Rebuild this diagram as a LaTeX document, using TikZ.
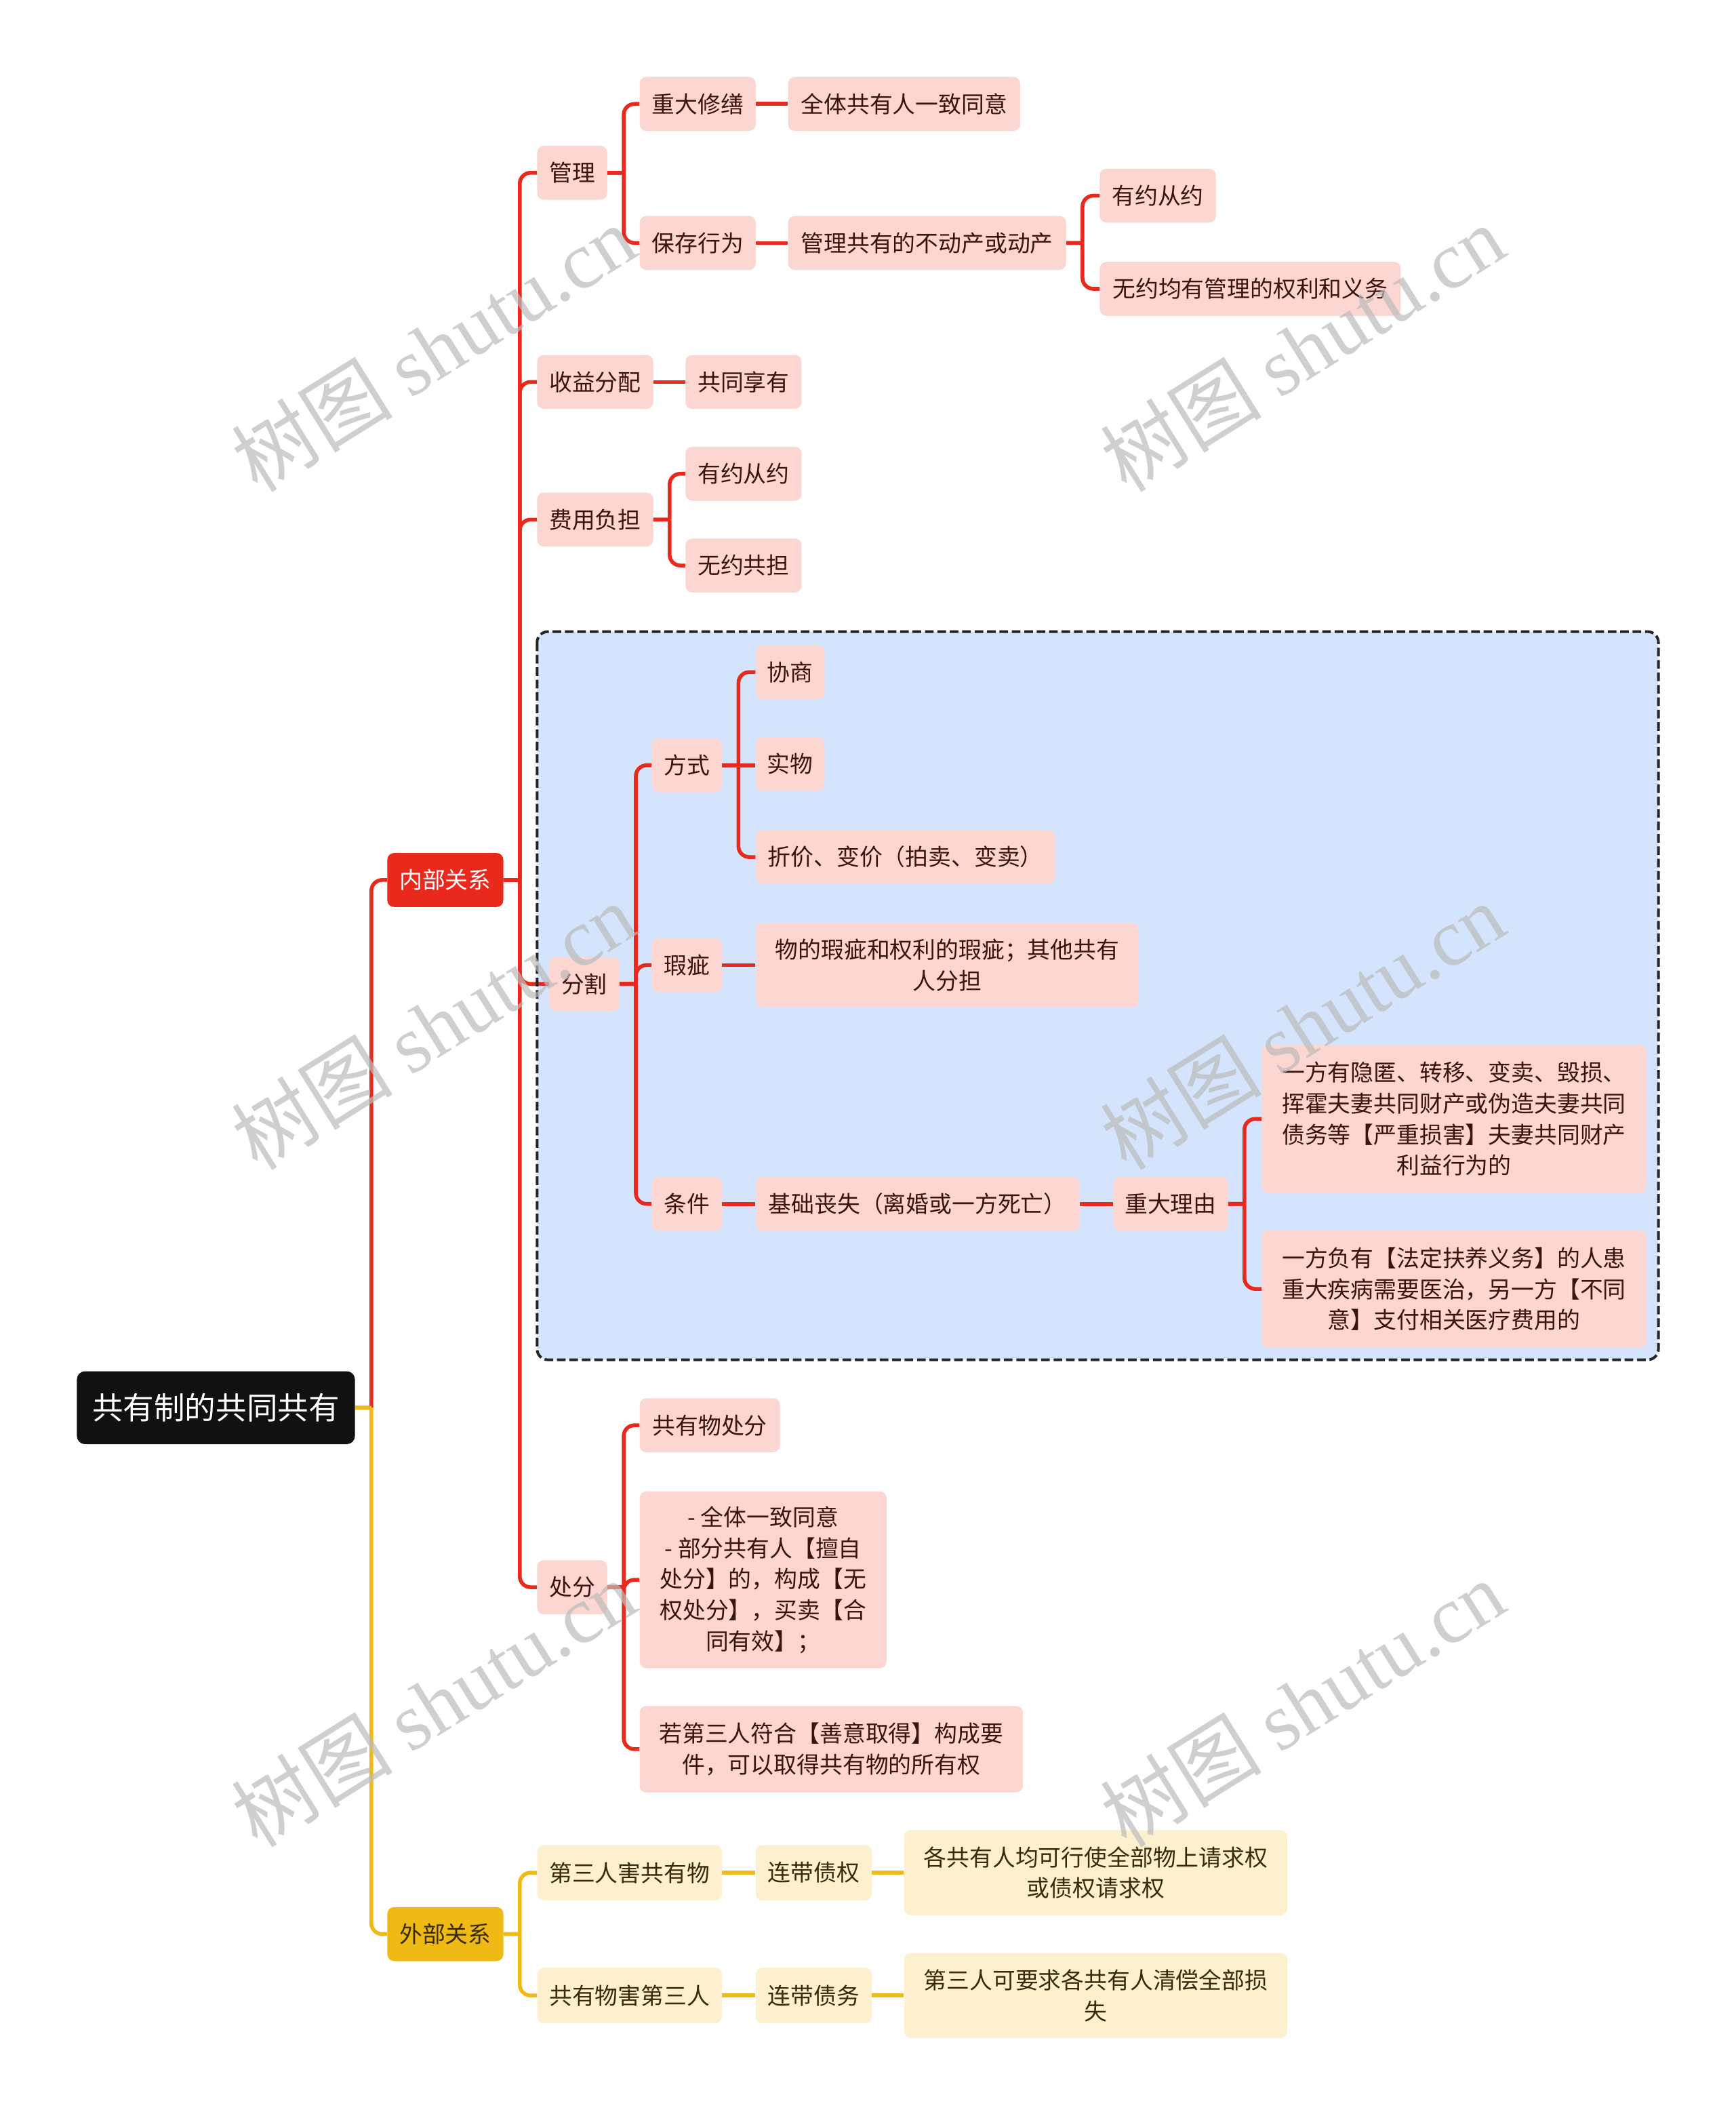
\documentclass[tikz,border=0pt]{standalone}
\usepackage{fontspec}
\setmainfont{Noto Sans CJK SC}
\newfontfamily\wmfont{Liberation Serif}
\definecolor{redc}{HTML}{E8291C}
\definecolor{pinkf}{HTML}{FCD6D1}
\definecolor{pinkt}{HTML}{3B1410}
\definecolor{yelc}{HTML}{EFBA14}
\definecolor{yelf}{HTML}{FCF0CF}
\definecolor{yelt}{HTML}{3A2A08}
\definecolor{bluef}{HTML}{D4E4FC}
\definecolor{wmc}{HTML}{BBBBBB}
\definecolor{rootf}{HTML}{111111}
\definecolor{dashc}{HTML}{252525}
\newcommand\lnk[3]{\draw[#1] (#2.east) -- ++(12,0) coordinate (jj) {[rounded corners=8pt] (jj) |- (#3.west)};}
\newcommand\slnk[3]{\draw[#1] (#2.east) -- (#2.east -| #3.west);}
\begin{document}
\begin{tikzpicture}[x=1pt,y=-1pt,
 box/.style={rounded corners=5pt, inner sep=0pt, align=center, font=\fontsize{17}{23}\selectfont},
 pk/.style={box, fill=pinkf, text=pinkt},
 yl/.style={box, fill=yelf, text=yelt},
 rl/.style={draw=redc, line width=2.8pt},
 yln/.style={draw=yelc, line width=2.8pt},
 wm/.style={rotate=32, text=wmc, opacity=0.7, font=\fontsize{60}{64}\selectfont}
 ]
\fill[white] (0,0) rectangle (1286,1567.8);
\useasboundingbox (0,0) rectangle (1286,1567.8);

% dashed group background
\fill[bluef, rounded corners=8pt] (398,468) rectangle (1229,1007.5);

% root and level 1
\node[box, fill=rootf, text=white, rounded corners=6pt, minimum width=206pt, minimum height=54pt, font=\fontsize{22.9}{28}\selectfont] (root) at (160,1043) {共有制的共同共有};
\node[box, fill=redc, text=white, minimum width=86pt, minimum height=40pt] (nb) at (330,652) {内部关系};
\node[box, fill=yelc, text=yelt, minimum width=86pt, minimum height=40pt] (wb) at (330,1433) {外部关系};

% internal
\node[pk, minimum width=52pt, minimum height=40pt] (gl) at (424,128) {管理};
\node[pk, minimum width=86pt, minimum height=40pt] (zdxs) at (517,77) {重大修缮};
\node[pk, minimum width=172pt, minimum height=40pt] (qtty) at (670,77) {全体共有人一致同意};
\node[pk, minimum width=86pt, minimum height=40pt] (bcxw) at (517,180) {保存行为};
\node[pk, minimum width=206pt, minimum height=40pt] (glgy) at (687,180) {管理共有的不动产或动产};
\node[pk, minimum width=86pt, minimum height=40pt] (yycya) at (858,145) {有约从约};
\node[pk, minimum width=223pt, minimum height=40pt] (wyjy) at (926.5,214) {无约均有管理的权利和义务};
\node[pk, minimum width=86pt, minimum height=40pt] (syfp) at (441,283) {收益分配};
\node[pk, minimum width=86pt, minimum height=40pt] (gtxy) at (551,283) {共同享有};
\node[pk, minimum width=86pt, minimum height=40pt] (fyfd) at (441,385) {费用负担};
\node[pk, minimum width=86pt, minimum height=40pt] (yycyb) at (551,351) {有约从约};
\node[pk, minimum width=86pt, minimum height=40pt] (wygd) at (551,419) {无约共担};

\node[pk, minimum width=52pt, minimum height=40pt] (fg) at (433,729) {分割};
\node[pk, minimum width=52pt, minimum height=40pt] (fs) at (509,567) {方式};
\node[pk, minimum width=51pt, minimum height=40pt] (xs) at (585.5,498) {协商};
\node[pk, minimum width=51pt, minimum height=40pt] (sw) at (585.5,566) {实物};
\node[pk, minimum width=222pt, minimum height=40pt] (zj) at (671,635) {折价、变价（拍卖、变卖）};
\node[pk, minimum width=52pt, minimum height=40pt] (xc) at (509,715) {瑕疵};
\node[pk, minimum width=284pt, minimum height=62pt] (xcd) at (702,715) {物的瑕疵和权利的瑕疵；其他共有\\人分担};
\node[pk, minimum width=52pt, minimum height=40pt] (tj) at (509,892) {条件};
\node[pk, minimum width=240pt, minimum height=40pt] (jcss) at (680,892) {基础丧失（离婚或一方死亡）};
\node[pk, minimum width=85pt, minimum height=40pt] (zdly) at (867.5,892) {重大理由};
\node[pk, minimum width=285pt, minimum height=110pt] (yfyn) at (1077.5,829) {一方有隐匿、转移、变卖、毁损、\\挥霍夫妻共同财产或伪造夫妻共同\\债务等【严重损害】夫妻共同财产\\利益行为的};
\node[pk, minimum width=285pt, minimum height=87pt] (yffy) at (1077.5,955) {一方负有【法定扶养义务】的人患\\重大疾病需要医治，另一方【不同\\意】支付相关医疗费用的};

\node[pk, minimum width=52pt, minimum height=40pt] (cf) at (424,1176) {处分};
\node[pk, minimum width=104pt, minimum height=40pt] (gywcf) at (526,1056) {共有物处分};
\node[pk, minimum width=183pt, minimum height=131pt] (qtyz) at (565.5,1170.5) {- 全体一致同意\\- 部分共有人【擅自\\处分】的，构成【无\\权处分】，买卖【合\\同有效】；};
\node[pk, minimum width=284pt, minimum height=64pt] (rdsr) at (616,1296) {若第三人符合【善意取得】构成要\\件，可以取得共有物的所有权};

% external
\node[yl, minimum width=137pt, minimum height=41pt] (dsrh) at (466.5,1387.5) {第三人害共有物};
\node[yl, minimum width=86pt, minimum height=41pt] (ldzq) at (603,1387.5) {连带债权};
\node[yl, minimum width=284pt, minimum height=63pt] (gg) at (812,1387.5) {各共有人均可行使全部物上请求权\\或债权请求权};
\node[yl, minimum width=137pt, minimum height=41pt] (gywh) at (466.5,1478.5) {共有物害第三人};
\node[yl, minimum width=86pt, minimum height=41pt] (ldzw) at (603,1478.5) {连带债务};
\node[yl, minimum width=284pt, minimum height=63pt] (dsrk) at (812,1478.5) {第三人可要求各共有人清偿全部损\\失};

% connectors
\lnk{rl}{root}{nb}
\lnk{yln}{root}{wb}
\lnk{rl}{nb}{gl}
\lnk{rl}{nb}{syfp}
\lnk{rl}{nb}{fyfd}
\lnk{rl}{nb}{fg}
\lnk{rl}{nb}{cf}
\lnk{rl}{gl}{zdxs}
\lnk{rl}{gl}{bcxw}
\slnk{rl}{zdxs}{qtty}
\slnk{rl}{bcxw}{glgy}
\lnk{rl}{glgy}{yycya}
\lnk{rl}{glgy}{wyjy}
\slnk{rl}{syfp}{gtxy}
\lnk{rl}{fyfd}{yycyb}
\lnk{rl}{fyfd}{wygd}
\lnk{rl}{fg}{fs}
\lnk{rl}{fg}{xc}
\lnk{rl}{fg}{tj}
\lnk{rl}{fs}{xs}
\slnk{rl}{fs}{sw}
\lnk{rl}{fs}{zj}
\slnk{rl}{xc}{xcd}
\slnk{rl}{tj}{jcss}
\slnk{rl}{jcss}{zdly}
\lnk{rl}{zdly}{yfyn}
\lnk{rl}{zdly}{yffy}
\lnk{rl}{cf}{gywcf}
\lnk{rl}{cf}{qtyz}
\lnk{rl}{cf}{rdsr}
\lnk{yln}{wb}{dsrh}
\lnk{yln}{wb}{gywh}
\slnk{yln}{dsrh}{ldzq}
\slnk{yln}{ldzq}{gg}
\slnk{yln}{gywh}{ldzw}
\slnk{yln}{ldzw}{dsrk}

% dashed border
\draw[draw=dashc, line width=2pt, dash pattern=on 6.4pt off 2.8pt, rounded corners=8pt] (398,468) rectangle (1229,1007.5);

% watermarks
\foreach \wx/\wy [count=\i] in {321/258, 321/760, 321/1262, 965/258, 965/760, 965/1262}
  \node[wm] (wm\i) at (\wx,\wy) {树图 {\wmfont shutu.cn}};
\end{tikzpicture}
\end{document}
